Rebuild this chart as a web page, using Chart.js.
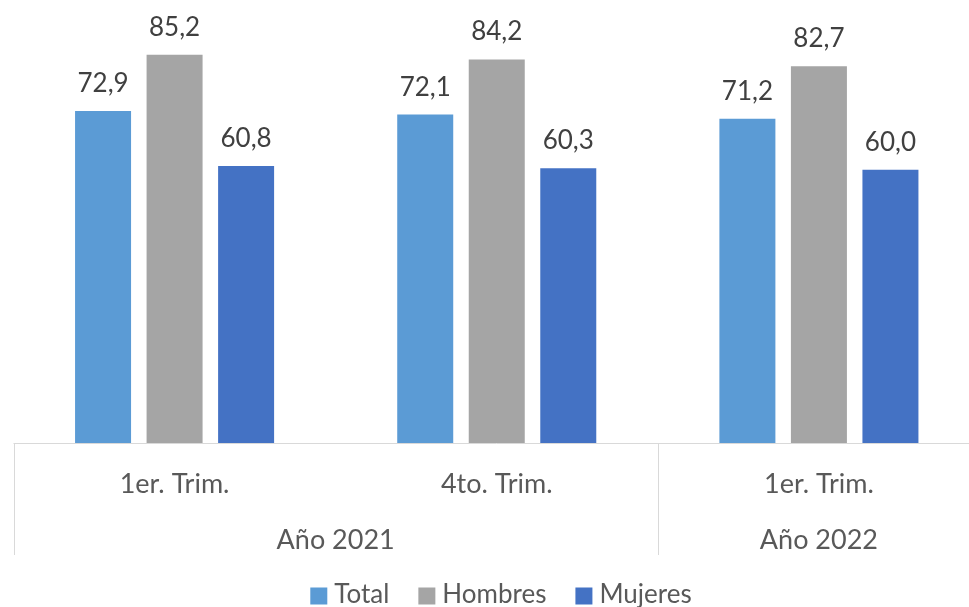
<!DOCTYPE html>
<html>
<head>
<meta charset="utf-8">
<script src="https://cdn.jsdelivr.net/npm/chart.js@4"></script>
<style>
    html, body { margin: 0; padding: 0; background: #fff; overflow: hidden; }
    #wrap { width: 980px; height: 607px; }
</style>
</head>
<body>
<div id="wrap"><canvas id="chart" width="980" height="607"></canvas></div>
<script>
    // Data
    const trimestres = ['1er. Trim.', '4to. Trim.', '1er. Trim.'];
    const anios = ['Año 2021', 'Año 2021', 'Año 2022'];
    const total = [72.9, 72.1, 71.2];
    const hombres = [85.2, 84.2, 82.7];
    const mujeres = [60.8, 60.3, 60.0];

    const FONT = 'Lato, "Open Sans", sans-serif';
    const TEXT = '#404040';
    const LABEL = '#595959';
    const AXIS = '#d9d9d9';

    function fmt(v) {
        return v.toFixed(1).replace('.', ',');
    }

    // Value labels, two-level category axis and legend
    const extras = {
        id: 'extras',
        afterDraw(chart) {
            const ctx = chart.ctx;
            const area = chart.chartArea;
            const x = chart.scales.x;
            ctx.save();

            // values above the bars
            ctx.font = '26px ' + FONT;
            ctx.fillStyle = TEXT;
            ctx.textAlign = 'center';
            ctx.textBaseline = 'alphabetic';
            chart.data.datasets.forEach((ds, i) => {
                chart.getDatasetMeta(i).data.forEach((bar, j) => {
                    ctx.fillText(fmt(ds.data[j]), bar.x, bar.y - 19);
                });
            });

            // axis line
            const bottom = area.bottom;
            ctx.strokeStyle = AXIS;
            ctx.lineWidth = 1;
            ctx.beginPath();
            ctx.moveTo(area.left, bottom + 0.5);
            ctx.lineTo(area.right, bottom + 0.5);
            ctx.stroke();

            const half = (x.getPixelForValue(1) - x.getPixelForValue(0)) / 2;

            // quarter labels
            ctx.font = '27px ' + FONT;
            ctx.fillStyle = LABEL;
            ctx.textBaseline = 'middle';
            trimestres.forEach((t, i) => {
                ctx.fillText(t, x.getPixelForValue(i), bottom + 41);
            });

            // year groups
            let start = 0;
            const lineEnd = bottom + 112;
            const vline = px => {
                ctx.beginPath();
                ctx.moveTo(Math.round(px) + 0.5, bottom);
                ctx.lineTo(Math.round(px) + 0.5, lineEnd);
                ctx.stroke();
            };
            vline(area.left);
            for (let i = 1; i <= anios.length; i++) {
                if (i === anios.length || anios[i] !== anios[start]) {
                    const l = x.getPixelForValue(start) - half;
                    const r = x.getPixelForValue(i - 1) + half;
                    ctx.fillText(anios[start], (l + r) / 2, bottom + 97);
                    vline(r);
                    start = i;
                }
            }

            // legend
            const box = 17, gap = 7, spacing = 29;
            ctx.font = '26px ' + FONT;
            const items = chart.data.datasets.map(ds => ({
                label: ds.label,
                color: ds.backgroundColor,
                w: box + gap + ctx.measureText(ds.label).width
            }));
            const totalW = items.reduce((s, it) => s + it.w, 0) + spacing * (items.length - 1);
            let lx = 501 - totalW / 2;
            const ly = 595;
            items.forEach(it => {
                ctx.fillStyle = it.color;
                ctx.fillRect(lx, ly - box / 2 + 1, box, box);
                ctx.fillStyle = LABEL;
                ctx.textAlign = 'left';
                ctx.fillText(it.label, lx + box + gap, ly);
                lx += it.w + spacing;
            });

            ctx.restore();
        }
    };

    new Chart(document.getElementById('chart'), {
        type: 'bar',
        data: {
            labels: trimestres,
            datasets: [
                { label: 'Total', data: total, backgroundColor: '#5b9bd5' },
                { label: 'Hombres', data: hombres, backgroundColor: '#a5a5a5' },
                { label: 'Mujeres', data: mujeres, backgroundColor: '#4472c4' }
            ]
        },
        options: {
            responsive: false,
            animation: false,
            devicePixelRatio: 1,
            datasets: {
                bar: {
                    categoryPercentage: 0.666,
                    barPercentage: 0.783
                }
            },
            layout: {
                padding: { left: 13.5, right: 0, top: 33, bottom: 164 }
            },
            plugins: {
                legend: { display: false },
                tooltip: { enabled: false }
            },
            scales: {
                x: { display: false },
                y: { display: false, min: 0, max: 90 }
            }
        },
        plugins: [extras]
    });
</script>
</body>
</html>
